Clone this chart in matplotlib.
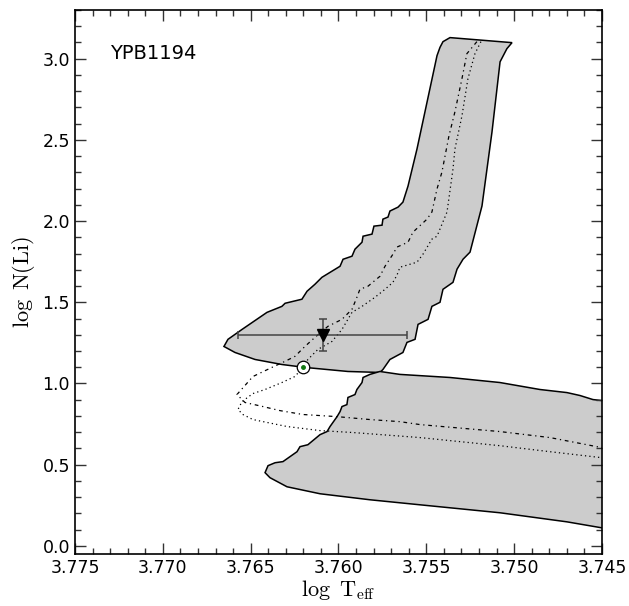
import matplotlib
matplotlib.use("Agg")
import matplotlib.pyplot as plt
from matplotlib.ticker import MultipleLocator, FormatStrFormatter

plt.rcParams['mathtext.fontset'] = 'cm'

# upper grey band (log Teff, log N(Li))
band1_x = [3.76652, 3.76629, 3.76549, 3.76407, 3.76322, 3.76304, 3.76208, 3.76179,
           3.76134, 3.76094, 3.75991, 3.75974, 3.75923, 3.75906, 3.75866, 3.75860,
           3.75809, 3.75798, 3.75752, 3.75747, 3.75718, 3.75707, 3.75661, 3.75633,
           3.75604, 3.75553, 3.75439, 3.75422, 3.75405, 3.75365,
           3.75012,
           3.75041, 3.75080, 3.75126, 3.75183, 3.75251, 3.75291, 3.75325, 3.75348,
           3.75405, 3.75422, 3.75468, 3.75490, 3.75547, 3.75564, 3.75610, 3.75633,
           3.75707, 3.75747, 3.75764,
           3.75946, 3.76191, 3.76322, 3.76475, 3.76589]
band1_y = [1.228, 1.272, 1.333, 1.438, 1.475, 1.494, 1.519, 1.568,
           1.611, 1.654, 1.722, 1.765, 1.784, 1.827, 1.870, 1.907,
           1.920, 1.969, 1.975, 2.012, 2.025, 2.062, 2.086, 2.117,
           2.216, 2.444, 3.019, 3.070, 3.105, 3.130,
           3.099,
           3.062, 2.981, 2.549, 2.093, 1.809, 1.765, 1.704, 1.623,
           1.580, 1.500, 1.475, 1.395, 1.364, 1.272, 1.253, 1.191,
           1.148, 1.086, 1.068,
           1.074, 1.099, 1.117, 1.148, 1.191]

# lower grey band
band2_x = [3.75764, 3.75650, 3.75365, 3.75081, 3.74853, 3.74699, 3.74625, 3.74551,
           3.74500, 3.74400, 3.74400, 3.74500,
           3.74699, 3.75081, 3.75536, 3.75821, 3.76105, 3.76293, 3.76390, 3.76418,
           3.76401, 3.76361, 3.76316, 3.76236, 3.76219, 3.76174, 3.76105, 3.76065,
           3.76048, 3.76008, 3.75991, 3.75980, 3.75952, 3.75946, 3.75906, 3.75895,
           3.75866, 3.75860, 3.75821]
band2_y = [1.074, 1.056, 1.037, 1.006, 0.963, 0.944, 0.926, 0.901,
           0.895, 0.890, 0.105, 0.111,
           0.148, 0.204, 0.253, 0.284, 0.321, 0.364, 0.420, 0.451,
           0.494, 0.512, 0.519, 0.580, 0.611, 0.623, 0.685, 0.704,
           0.735, 0.796, 0.827, 0.858, 0.870, 0.914, 0.932, 0.963,
           1.006, 1.037, 1.056]

# dash-dot track
dashdot_x = [3.75212, 3.75269, 3.75297, 3.75337, 3.75371, 3.75411, 3.75439, 3.75468,
             3.75496, 3.75576, 3.75604, 3.75667, 3.75690, 3.75735, 3.75764, 3.75832,
             3.75878, 3.75895, 3.75923, 3.75980, 3.76060, 3.76134, 3.76191, 3.76248,
             3.76305, 3.76379, 3.76487, 3.76578, 3.76532, 3.76430, 3.76333, 3.76202,
             3.76009, 3.75821, 3.75650, 3.75536, 3.75081, 3.74796, 3.74500]
dashdot_y = [3.105, 3.031, 2.877, 2.673, 2.525, 2.302, 2.198, 2.056,
             2.012, 1.932, 1.870, 1.840, 1.796, 1.722, 1.660, 1.599,
             1.580, 1.531, 1.457, 1.395, 1.352, 1.284, 1.228, 1.167,
             1.136, 1.099, 1.043, 0.932, 0.883, 0.858, 0.833, 0.809,
             0.796, 0.778, 0.765, 0.747, 0.704, 0.667, 0.605]

# dotted track
dotted_x = [3.75189, 3.75223, 3.75263, 3.75297, 3.75337, 3.75348, 3.75382, 3.75439,
            3.75468, 3.75519, 3.75553, 3.75650, 3.75667, 3.75690, 3.75735, 3.75792,
            3.75866, 3.75923, 3.75980, 3.76037, 3.76117, 3.76174, 3.76202, 3.76248,
            3.76322, 3.76418, 3.76487, 3.76549, 3.76572, 3.76544, 3.76487, 3.76293,
            3.76105, 3.75917, 3.75536, 3.75081, 3.74796, 3.74500]
dotted_y = [3.105, 3.031, 2.877, 2.648, 2.444, 2.321, 2.056, 1.907,
            1.889, 1.796, 1.747, 1.716, 1.667, 1.623, 1.580, 1.531,
            1.475, 1.438, 1.333, 1.259, 1.210, 1.148, 1.099, 1.043,
            1.006, 0.963, 0.938, 0.889, 0.840, 0.809, 0.778, 0.735,
            0.710, 0.698, 0.667, 0.617, 0.580, 0.543]

# star (upper limit) and the Sun
star_teff, star_li = 3.7609, 1.30
star_teff_err, star_li_err = 0.0048, 0.10
sun_teff, sun_li = 3.762, 1.10

fig = plt.figure(figsize=(6.29, 6.06), dpi=100)
ax = fig.add_axes([0.1192, 0.0858, 0.8378, 0.8977])

ax.fill(band1_x, band1_y, facecolor='#cccccc', edgecolor='black', linewidth=1.1, zorder=1)
ax.fill(band2_x, band2_y, facecolor='#cccccc', edgecolor='black', linewidth=1.1, zorder=1)
ax.plot(dashdot_x, dashdot_y, color='black', linestyle=(0, (3, 3, 1, 3)), linewidth=0.9, zorder=2)
ax.plot(dotted_x, dotted_y, color='black', linestyle=(0, (1, 2.5)), linewidth=0.9, zorder=2)

ax.errorbar(star_teff, star_li, xerr=star_teff_err, yerr=star_li_err, fmt='none',
            ecolor='#444444', elinewidth=1.1, capsize=3, capthick=1.1, zorder=3)
ax.plot(star_teff, star_li, marker='v', color='black', markersize=8, zorder=4)

ax.plot(sun_teff, sun_li, marker='o', markerfacecolor='white', markeredgecolor='black',
        markersize=9, markeredgewidth=0.9, zorder=4)
ax.plot(sun_teff, sun_li, marker='o', color='#117711', markersize=2.5, zorder=5)

ax.text(3.7730, 3.0, 'YPB1194', fontsize=14, va='baseline', ha='left')

ax.set_xlim(3.775, 3.745)
ax.set_ylim(-0.05, 3.3)

ax.xaxis.set_major_locator(MultipleLocator(0.005))
ax.xaxis.set_minor_locator(MultipleLocator(0.001))
ax.yaxis.set_major_locator(MultipleLocator(0.5))
ax.yaxis.set_minor_locator(MultipleLocator(0.1))
ax.xaxis.set_major_formatter(FormatStrFormatter('%.3f'))
ax.yaxis.set_major_formatter(FormatStrFormatter('%.1f'))

ax.tick_params(which='both', direction='in', top=True, right=True, color='#333333',
               labelsize=12.5)
ax.tick_params(which='major', length=8, width=1)
ax.tick_params(which='minor', length=4, width=1)
for s in ax.spines.values():
    s.set_linewidth(1.2)

ax.set_xlabel(r'$\log\ \mathrm{T_{eff}}$', fontsize=16, labelpad=1)
ax.set_ylabel(r'$\log\ \mathrm{N(Li)}$', fontsize=16)

fig.savefig('out.png', dpi=100)
